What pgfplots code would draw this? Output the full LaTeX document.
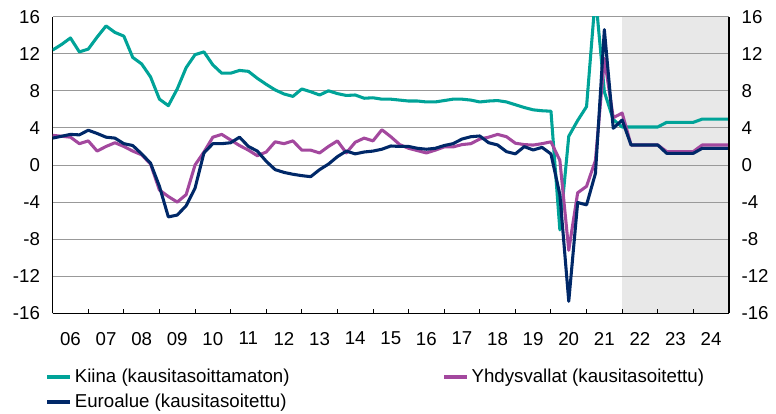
\documentclass[border=0pt]{standalone}
\usepackage{fontspec}
\setmainfont{Liberation Sans}
\usepackage{pgfplots}
\pgfplotsset{compat=1.18}
\usepackage{pgfplotstable}

\definecolor{kiina}{RGB}{0,163,152}
\definecolor{usa}{RGB}{163,72,158}
\definecolor{euro}{RGB}{0,40,104}
\definecolor{ennuste}{RGB}{232,232,232}
\newcommand\chfont{\fontsize{14}{17}\selectfont}

% BKT:n vuosimuutos, %, neljannesvuosittain (t = neljanneksen loppu)
\pgfplotstableread{
t       china  usa    euro
2006.00 12.4   3.2    2.9
2006.25 13.0   3.1    3.1
2006.50 13.7   3.0    3.3
2006.75 12.2   2.3    3.25
2007.00 12.5   2.6    3.75
2007.25 13.8   1.5    3.4
2007.50 15.0   2.0    3.0
2007.75 14.3   2.4    2.9
2008.00 13.9   2.0    2.3
2008.25 11.6   1.5    2.1
2008.50 10.9   1.1    1.2
2008.75 9.5    0.1    0.2
2009.00 7.1    -2.7   -2.3
2009.25 6.4    -3.4   -5.6
2009.50 8.2    -4.0   -5.4
2009.75 10.5   -3.2   -4.4
2010.00 11.9   0.0    -2.5
2010.25 12.2   1.4    1.3
2010.50 10.8   3.0    2.3
2010.75 9.9    3.3    2.3
2011.00 9.9    2.7    2.4
2011.25 10.2   2.1    3.0
2011.50 10.1   1.6    2.0
2011.75 9.35   1.0    1.5
2012.00 8.7    1.4    0.4
2012.25 8.1    2.5    -0.5
2012.50 7.66   2.3    -0.8
2012.75 7.4    2.6    -1.0
2013.00 8.2    1.6    -1.15
2013.25 7.9    1.6    -1.26
2013.50 7.55   1.3    -0.5
2013.75 8.0    2.0    0.1
2014.00 7.7    2.6    0.9
2014.25 7.5    1.3    1.5
2014.50 7.55   2.45   1.2
2014.75 7.2    2.9    1.4
2015.00 7.25   2.6    1.5
2015.25 7.1    3.8    1.7
2015.50 7.1    3.05   2.05
2015.75 7.0    2.2    2.0
2016.00 6.9    1.8    2.0
2016.25 6.9    1.55   1.8
2016.50 6.8    1.3    1.7
2016.75 6.8    1.6    1.8
2017.00 6.95   1.95   2.1
2017.25 7.1    1.95   2.3
2017.50 7.1    2.2    2.8
2017.75 7.0    2.3    3.05
2018.00 6.8    2.8    3.13
2018.25 6.9    3.0    2.4
2018.50 6.95   3.3    2.16
2018.75 6.8    3.05   1.44
2019.00 6.5    2.35   1.2
2019.25 6.2    2.2    1.98
2019.50 5.95   2.15   1.62
2019.75 5.85   2.3    1.9
2020.00 5.8    2.5    1.19
2020.25 -7.0   0.5    -3.2
2020.50 3.1    -9.2   -14.7
2020.75 4.8    -3.0   -4.05
2021.00 6.3    -2.3   -4.3
2021.25 18.3   0.5    -0.9
2021.50 7.9    11.5   14.6
2021.75 4.9    5.1    3.96
2022.00 4.1    5.6    4.85
2022.25 4.1    2.16   2.16
2022.50 4.1    2.16   2.16
2022.75 4.1    2.16   2.16
2023.00 4.1    2.16   2.16
2023.25 4.6    1.45   1.26
2023.50 4.6    1.45   1.26
2023.75 4.6    1.45   1.26
2024.00 4.6    1.45   1.26
2024.25 4.95   2.16   1.8
2024.50 4.95   2.16   1.8
2024.75 4.95   2.16   1.8
2025.00 4.95   2.16   1.8
}\gdp

% ennustejakso (harmaa alue)
\pgfplotstableread{
t    y
2022 -16
2022 16
2025 16
2025 -16
}\ennustejakso

\begin{document}
\begin{tikzpicture}
\begin{axis}[
    at={(0,0)}, anchor=south west,
    scale only axis,
    width=507.2pt, height=222.5pt,
    set layers,
    xmin=2006, xmax=2025,
    ymin=-16, ymax=16,
    axis x line*=bottom,
    axis y line*=left,
    axis line style={black, line width=0.9pt},
    xtick={2006,...,2025},
    xticklabels={06,07,08,09,10,11,12,13,14,15,16,17,18,19,20,21,22,23,24},
    x tick label as interval,
    ytick={-16,-12,...,16},
    yticklabels={-16,-12,-8,-4,0,4,8,12,16},
    tick align=inside,
    major tick length=3.5pt,
    xtick style={black, line width=0.7pt},
    ytick style={draw=none},
    ymajorgrids,
    grid style={gray!80, line width=0.7pt},
    tick label style={font=\chfont},
    yticklabel style={anchor=east, xshift=-6pt},
    xticklabel style={yshift=-10.5pt},
    legend style={draw=none, fill=none, font=\chfont,
        at={(axis description cs:-0.017,-0.17)}, anchor=north west,
        legend columns=2, row sep=3pt},
    legend cell align=left,
    legend image code/.code={\draw[#1, line width=3pt] (0cm,0cm) -- (0.6cm,0cm);},
]
    \addplot[draw=none, fill=ennuste, on layer=axis background, forget plot]
        table[x=t, y=y] {\ennustejakso} -- cycle;

    \addplot[kiina, line width=2.3pt, line join=round] table[x=t, y=china] {\gdp};
    \addlegendentry{\makebox[273.5pt][l]{Kiina (kausitasoittamaton)}}
    \addplot[usa, line width=2.3pt, line join=round] table[x=t, y=usa] {\gdp};
    \addlegendentry{Yhdysvallat (kausitasoitettu)}
    \addplot[euro, line width=2.3pt, line join=round] table[x=t, y=euro] {\gdp};
    \addlegendentry{Euroalue (kausitasoitettu)}
\end{axis}

% oikea pystyakseli
\begin{axis}[
    at={(0,0)}, anchor=south west,
    scale only axis,
    width=507.2pt, height=222.5pt,
    xmin=2006, xmax=2025,
    ymin=-16, ymax=16,
    hide x axis,
    axis y line*=right,
    axis line style={black, line width=0.9pt},
    ytick={-16,-12,...,16},
    yticklabels={-16,-12,-8,-4,0,4,8,12,16},
    ytick style={draw=none},
    tick label style={font=\chfont},
    yticklabel style={anchor=west, xshift=6pt},
]
    \addplot[draw=none, forget plot] table[x=t, y=euro] {\gdp};
\end{axis}

\pgfresetboundingbox
\path[use as bounding box] (-39.5pt,-74.8pt) rectangle (542.5pt,235pt);
\end{tikzpicture}
\end{document}
